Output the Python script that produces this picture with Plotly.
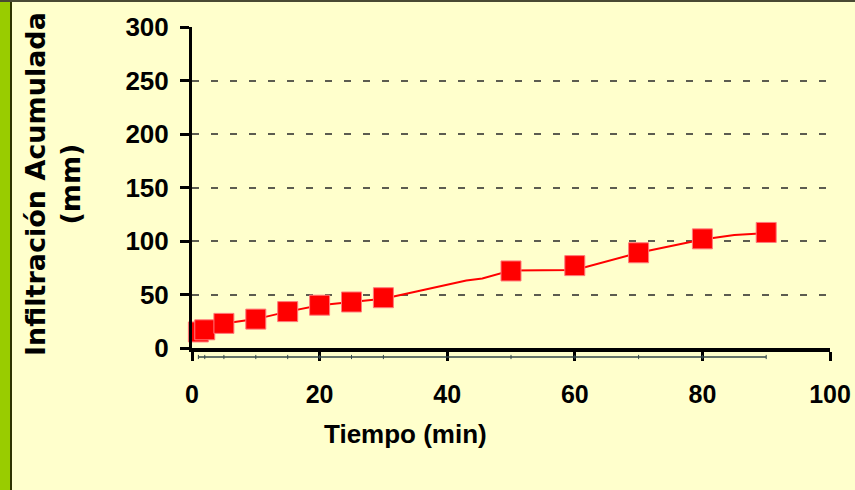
import plotly.graph_objects as go

# Cumulative infiltration test: observed readings and the smoothed curve
time_obs = [1, 2, 5, 10, 15, 20, 25, 30, 50, 60, 70, 80, 90]
infil_obs = [15, 17, 23, 27, 34, 40, 43, 47, 72, 77, 89, 102, 108]

time_curve = [1, 2, 5, 10, 15, 20, 25, 30, 35, 37, 43, 45.5, 50, 60, 70, 80, 85, 90]
infil_curve = [15, 17, 23, 27, 34, 40, 43, 46, 52.5, 55, 63, 65, 72.5, 73, 89, 101.5, 105.5, 107.5]

# reference strip drawn under the time axis
base_values = [0] * len(time_obs)

x_ticks = [0, 20, 40, 60, 80, 100]
y_ticks = [0, 50, 100, 150, 200, 250, 300]

BG = "#FFFFCC"
RED = "#FF0000"
BOLD = "Liberation Sans, Arial, sans-serif"
WIDE = "DejaVu Sans, Liberation Sans, sans-serif"

W, H = 855, 490
L, R, T, B = 192, 25, 27, 130
PW, PH = W - L - R, H - T - B

fig = go.Figure()

fig.add_trace(go.Scatter(
    x=time_curve, y=infil_curve, mode="lines",
    line=dict(color=RED, width=2),
    xaxis="x", yaxis="y", showlegend=False, hoverinfo="skip",
))
fig.add_trace(go.Scatter(
    x=time_obs, y=infil_obs, mode="markers",
    marker=dict(symbol="square", size=20, color=RED,
                line=dict(color="#FF7A7A", width=1)),
    xaxis="x", yaxis="y", showlegend=False, cliponaxis=False,
))
fig.add_trace(go.Scatter(
    x=time_obs, y=base_values, mode="lines+markers",
    line=dict(color="#33474A", width=1.5),
    marker=dict(symbol="line-ns", size=3, line=dict(color="#33474A", width=1)),
    xaxis="x2", yaxis="y2", showlegend=False, hoverinfo="skip",
))

fig.update_layout(
    width=W, height=H,
    margin=dict(l=L, r=R, t=T, b=B, autoexpand=False),
    paper_bgcolor=BG, plot_bgcolor="rgba(0,0,0,0)",
    xaxis=dict(
        range=[0, 100], tickvals=x_ticks, ticktext=[str(v) for v in x_ticks],
        showline=True, linecolor="black", linewidth=4,
        ticks="outside", ticklen=9, tickwidth=3, tickcolor="black",
        ticklabelstandoff=12, automargin=False,
        tickfont=dict(family=BOLD, size=25, color="black", weight="bold"),
        showgrid=False, zeroline=False, anchor="y",
    ),
    yaxis=dict(
        range=[0, 300], tickvals=y_ticks, domain=[12 / PH, 1],
        showline=True, linecolor="black", linewidth=3,
        ticks="outside", ticklen=9, tickwidth=2.5, tickcolor="black",
        ticklabelstandoff=6, automargin=False,
        tickfont=dict(family=BOLD, size=26, color="black", weight="bold"),
        showgrid=True, gridcolor="#5C5C50", gridwidth=1.5, griddash="7px,12px",
        zeroline=False, anchor="x",
    ),
    xaxis2=dict(matches="x", visible=False, anchor="y2"),
    yaxis2=dict(range=[-1, 3], domain=[0, 12 / PH], visible=False, anchor="x2"),
    annotations=[
        dict(text="Infiltración Acumulada<br>(mm)", textangle=-90,
             xref="paper", yref="paper", x=(53 - L) / PW, y=(H - B - 184) / PH,
             xanchor="center", yanchor="middle", showarrow=False,
             font=dict(family=WIDE, size=27, color="black", weight="bold")),
        dict(text="Tiempo (min)",
             xref="paper", yref="paper", x=(405 - L) / PW, y=(H - B - 434) / PH,
             xanchor="center", yanchor="middle", showarrow=False,
             font=dict(family=BOLD, size=26, color="black", weight="bold")),
    ],
    shapes=[
        dict(type="rect", xref="paper", yref="paper", layer="below",
             x0=-L / PW, x1=(10 - L) / PW, y0=-B / PH, y1=1 + T / PH,
             fillcolor="#99CC00", line=dict(width=0)),
        dict(type="line", xref="paper", yref="paper",
             x0=(11 - L) / PW, x1=(11 - L) / PW, y0=-B / PH, y1=1 + T / PH,
             line=dict(color="#2E3300", width=2)),
        dict(type="line", xref="paper", yref="paper",
             x0=-L / PW, x1=1 + R / PW, y0=1 + (T - 1) / PH, y1=1 + (T - 1) / PH,
             line=dict(color="#4A4A33", width=2)),
    ],
)

fig.write_html("out.html")
